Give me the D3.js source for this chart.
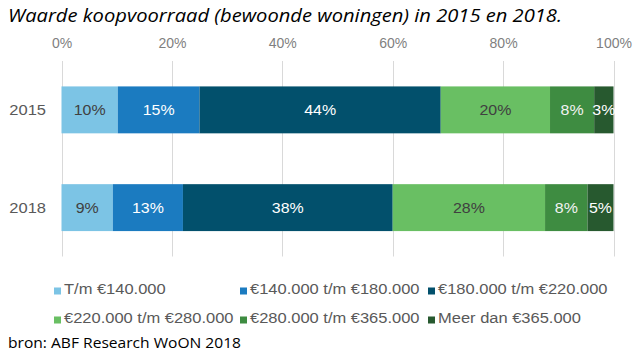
<!DOCTYPE html>
<html>
<head>
<meta charset="utf-8">
<script src="https://cdn.jsdelivr.net/npm/d3@7"></script>
<style>
  html, body { margin: 0; padding: 0; background: #ffffff; }
  svg { display: block; }
</style>
</head>
<body>
<svg id="chart" width="642" height="357"></svg>
<script>
// ---- Data ----
const years = ["2015", "2018"];
const categories = [
  "T/m €140.000",
  "€140.000 t/m €180.000",
  "€180.000 t/m €220.000",
  "€220.000 t/m €280.000",
  "€280.000 t/m €365.000",
  "Meer dan €365.000"
];
const values2015 = [10.2, 14.8, 43.7, 19.8, 8.0, 3.5];
const values2018 = [9.3, 12.7, 38.0, 27.6, 7.7, 4.7];
const labels2015 = ["10%", "15%", "44%", "20%", "8%", "3%"];
const labels2018 = ["9%", "13%", "38%", "28%", "8%", "5%"];
const tickValues = [0, 20, 40, 60, 80, 100];
const colors = ["#7cc4e5", "#1b7bc0", "#02506c", "#69bf63", "#3e8c41", "#27592f"];
const labelColors = ["#404040", "#ffffff", "#ffffff", "#404040", "#f2f2f2", "#ffffff"];

const titleText = "Waarde koopvoorraad (bewoonde woningen) in 2015 en 2018.";
const sourceText = "bron: ABF Research WoON 2018";

// ---- Layout ----
const svg = d3.select("#chart");
const plot = { left: 61.5, right: 613.5, top: 61, bottom: 256.5 };
const STRETCH = 1.1;
const ARIAL = "'Liberation Sans', Arial, sans-serif";

const x = d3.scaleLinear().domain([0, 100]).range([plot.left, plot.right]);
const y = d3.scaleBand().domain(years).range([plot.top, plot.bottom]).paddingInner(0.52).paddingOuter(0.26);

// Title
svg.append("text")
  .attr("x", 8).attr("y", 22)
  .attr("font-family", "'Open Sans', 'Noto Sans', sans-serif")
  .attr("font-style", "italic")
  .attr("font-size", 19)
  .attr("fill", "#000")
  .attr("textLength", 554)
  .attr("lengthAdjust", "spacingAndGlyphs")
  .text(titleText);

// Gridlines
svg.append("g")
  .selectAll("line")
  .data(tickValues)
  .join("line")
  .attr("x1", d => Math.round(x(d)) + 0.5)
  .attr("x2", d => Math.round(x(d)) + 0.5)
  .attr("y1", plot.top)
  .attr("y2", plot.bottom)
  .attr("stroke", "#d9d9d9")
  .attr("stroke-width", 1);

// Top axis tick labels
const axis = d3.axisTop(x).tickValues(tickValues).tickFormat(d => d + "%").tickSize(0).tickPadding(0);
const axisG = svg.append("g").attr("transform", "translate(0,48)").call(axis);
axisG.select(".domain").remove();
axisG.selectAll("text")
  .attr("font-family", ARIAL)
  .attr("font-size", 14)
  .attr("fill", "#7f7f7f");

// Year labels
const yAxis = d3.axisLeft(y).tickSize(0).tickPadding(0);
const yG = svg.append("g").attr("transform", "translate(46,0)").call(yAxis);
yG.select(".domain").remove();
yG.selectAll("text")
  .attr("font-family", ARIAL)
  .attr("font-size", 15)
  .attr("fill", "#595959")
  .attr("x", 0)
  .attr("dy", "0.35em")
  .attr("transform", `scale(${STRETCH},1)`);

// Stacked bars
const series = [
  { year: "2015", values: values2015, labels: labels2015 },
  { year: "2018", values: values2018, labels: labels2018 }
];
series.forEach(s => {
  let acc = 0;
  const segs = s.values.map((v, i) => {
    const seg = { i, x0: acc, x1: acc + v, label: s.labels[i] };
    acc += v;
    return seg;
  });
  const scaleK = 100 / acc;
  segs.forEach(d => { d.x0 *= scaleK; d.x1 *= scaleK; });
  const g = svg.append("g");
  g.selectAll("rect")
    .data(segs)
    .join("rect")
    .attr("x", d => x(d.x0))
    .attr("width", d => x(d.x1) - x(d.x0))
    .attr("y", y(s.year))
    .attr("height", y.bandwidth())
    .attr("fill", d => colors[d.i]);
  g.selectAll("text")
    .data(segs)
    .join("text")
    .attr("transform", d => `translate(${(x(d.x0) + x(d.x1)) / 2},${y(s.year) + y.bandwidth() / 2}) scale(${STRETCH},1)`)
    .attr("dy", "0.35em")
    .attr("text-anchor", "middle")
    .attr("font-family", ARIAL)
    .attr("font-size", 14.5)
    .attr("fill", d => labelColors[d.i])
    .text(d => d.label);
});

// Legend
const legendPos = [
  { x: 54, y: 291 }, { x: 240, y: 291 }, { x: 428, y: 291 },
  { x: 54, y: 320 }, { x: 240, y: 320 }, { x: 428, y: 320 }
];
const lg = svg.append("g");
const items = lg.selectAll("g").data(categories).join("g")
  .attr("transform", (d, i) => `translate(${legendPos[i].x},${legendPos[i].y})`);
items.append("rect")
  .attr("x", 0).attr("y", -3.5).attr("width", 7).attr("height", 7)
  .attr("fill", (d, i) => colors[i]);
items.append("text")
  .attr("transform", `translate(10,2.5) scale(${STRETCH},1)`)
  .attr("font-family", ARIAL)
  .attr("font-size", 15)
  .attr("fill", "#595959")
  .text(d => d);

// Source
svg.append("text")
  .attr("x", 8).attr("y", 348)
  .attr("font-family", "'Open Sans', 'Noto Sans', sans-serif")
  .attr("font-size", 15)
  .attr("fill", "#000")
  .attr("textLength", 233)
  .attr("lengthAdjust", "spacingAndGlyphs")
  .text(sourceText);
</script>
</body>
</html>
